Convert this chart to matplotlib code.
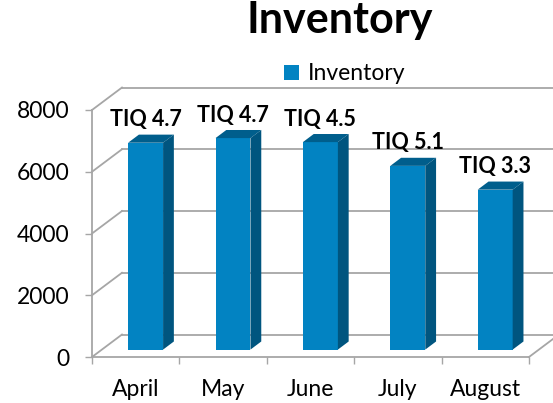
import numpy as np
import matplotlib.pyplot as plt
from matplotlib.patches import Polygon

plt.rcParams['font.family'] = ['Lato', 'DejaVu Sans']

months = ['April', 'May', 'June', 'July', 'August']
inventory = [6700, 6850, 6720, 5950, 5180]
tiq = ['TIQ 4.7', 'TIQ 4.7', 'TIQ 4.5', 'TIQ 5.1', 'TIQ 3.3']
yticks = [0, 2000, 4000, 6000, 8000]

front_c = '#0283C2'
side_c = '#00557F'
top_c = '#005E8C'
grid_c = '#A6A6A6'

# oblique depth vector (category units, value units) for full depth
DX, DY = 0.343, 728
d0, d1 = 0.33, 0.69
w = 0.4

fig = plt.figure(figsize=(5.53, 4.03), dpi=100)
ax = fig.add_axes([92 / 553, 46 / 403, 437 / 553, 247 / 403])
ax.set_xlim(-0.5, 4.5)
ax.set_ylim(0, 8000)
for s in ax.spines.values():
    s.set_visible(False)

# back wall gridlines and left wall diagonals
for v in yticks:
    ax.plot([-0.5 + DX, 4.5 + DX], [v + DY, v + DY], color=grid_c, lw=1.3,
            clip_on=False, zorder=1)
    ax.plot([-0.5, -0.5 + DX], [v, v + DY], color=grid_c, lw=1.3,
            clip_on=False, zorder=1)
# front axis + floor edge
ax.plot([-0.5, -0.5], [0, 8000], color=grid_c, lw=1.3, clip_on=False, zorder=1)
ax.plot([-0.5, 4.5], [0, 0], color=grid_c, lw=1.3, clip_on=False, zorder=1)
ax.plot([4.5, 4.5 + DX], [0, DY], color=grid_c, lw=1.3, clip_on=False, zorder=1)

x = np.arange(len(months))
xf = x + d0 * DX
bars = ax.bar(xf, inventory, width=w, bottom=d0 * DY, color=front_c,
              label='Inventory', zorder=3)
dd = d1 - d0
for xi, v in zip(xf, inventory):
    xl, xr = xi - w / 2, xi + w / 2
    yt = v + d0 * DY
    ax.add_patch(Polygon([(xl, yt), (xr, yt), (xr + dd * DX, yt + dd * DY),
                          (xl + dd * DX, yt + dd * DY)], closed=True,
                         facecolor=top_c, edgecolor='none', zorder=3))
    ax.add_patch(Polygon([(xr, d0 * DY), (xr, yt), (xr + dd * DX, yt + dd * DY),
                          (xr + dd * DX, d1 * DY)], closed=True,
                         facecolor=side_c, edgecolor='none', zorder=3))

for xi, v, t in zip(xf, inventory, tiq):
    ax.annotate(t, (xi, v + d0 * DY), xytext=(0, 16.5), textcoords='offset points',
                ha='center', va='center', fontsize=15.5, fontweight='bold',
                annotation_clip=False)

ax.set_yticks(yticks)
ax.set_yticklabels([str(v) for v in yticks], fontsize=16.5)
ax.tick_params(axis='y', length=5, width=1, color=grid_c, pad=11)
ax.set_xticks(x)
ax.set_xticklabels(months, fontsize=16.5)
ax.set_xticks(np.arange(-0.5, 5, 1), minor=True)
ax.tick_params(axis='x', which='major', length=0, pad=16)
ax.tick_params(axis='x', which='minor', length=5, width=1, color=grid_c)

fig.text(340 / 553, 1 - 33 / 403, 'Inventory', ha='center', va='baseline',
         fontsize=31, fontweight='bold')
fig.legend(handles=[bars], labels=['Inventory'], loc='center',
           bbox_to_anchor=(345 / 553, 1 - 74 / 403), frameon=False,
           fontsize=16.5, handlelength=0.65, handleheight=0.65, handletextpad=0.4)

fig.savefig('out.png', dpi=100)
